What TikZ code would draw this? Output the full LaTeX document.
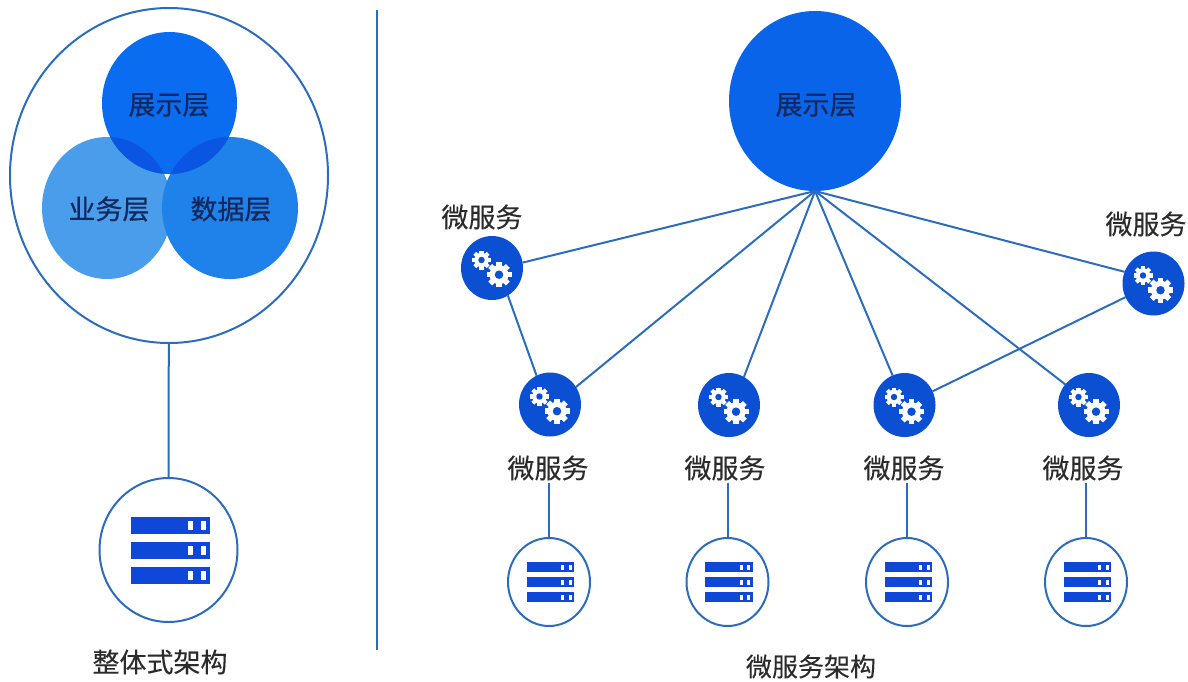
\documentclass[tikz,border=0pt]{standalone}
\usepackage{fontspec}
\setmainfont{Noto Sans CJK SC}
\newfontfamily\boldish[FakeBold=0.6]{Noto Sans CJK SC}
\newfontfamily\semibold[FakeBold=0.2]{Noto Sans CJK SC}
\usetikzlibrary{shapes.geometric}
\definecolor{linec}{HTML}{2C6CBE}
\definecolor{topc}{HTML}{0A6CF0}
\definecolor{overc}{HTML}{0A55E2}
\definecolor{leftc}{HTML}{4A9DEA}
\definecolor{rightc}{HTML}{1F82EA}
\definecolor{bigc}{HTML}{0A64EA}
\definecolor{gearc}{HTML}{0B4FD2}
\definecolor{srvc}{HTML}{0F48D8}
\definecolor{navy}{HTML}{12295E}
\definecolor{txt}{HTML}{2B2B2B}
\tikzset{
  x=1pt,y=-1pt,
  conn/.style={draw=linec,line width=2pt},
  blob/.style={ellipse,inner sep=0pt,outer sep=0pt,draw=none},
  ring/.style={ellipse,inner sep=0pt,outer sep=0pt,draw=linec,line width=2pt,fill=white},
  gearnode/.style={blob,fill=gearc,minimum width=62pt,minimum height=64pt},
  disk/.style={ring,minimum width=82pt,minimum height=88pt},
  inlabel/.style={text=navy,font=\boldish\fontsize{27}{27}\selectfont,inner sep=0pt},
  captxt/.style={text=txt,font=\semibold\fontsize{27}{27}\selectfont,inner sep=2pt},
  gearpic/.pic={
    \foreach \a in {0,45,...,315}{
      \fill[white,rotate=\a] (-.22,-1) rectangle (.22,-.6);
    }
    \fill[white] (0,0) circle[radius=.76];
    \fill[gearc] (0,0) circle[radius=.34];
  },
  gears/.pic={
    \pic[scale=9.5] at (-10.5,-8) {gearpic};
    \pic[scale=12.5] at (7,6.7) {gearpic};
  },
  rack/.pic={
    \foreach \y in {-33,-8,17}{
      \fill[srvc] (-37,\y) rectangle (42,\y+17);
      \fill[white] (20,\y+4) rectangle (25,\y+13);
      \fill[white] (33,\y+4) rectangle (38,\y+13);
    }
  }
}
\begin{document}
\begin{tikzpicture}
\useasboundingbox (0,0) rectangle (1188,681);
% monolith
\node[ring,minimum width=318pt,minimum height=335pt] (mono) at (169,175.5) {};
\node[blob,fill=leftc,minimum width=130pt,minimum height=142pt] (biz) at (107,208) {};
\node[blob,fill=rightc,minimum width=136pt,minimum height=142pt] (data) at (230,208) {};
\node[blob,fill=topc,minimum width=135pt,minimum height=142pt] (pres) at (169.5,103) {};
\begin{scope}
  \clip (169.5,103) ellipse[x radius=67.5,y radius=71];
  \fill[overc] (107,208) ellipse[x radius=65,y radius=71];
  \fill[overc] (230,208) ellipse[x radius=68,y radius=71];
\end{scope}
\node[inlabel] (t1) at (169,105) {展示层};
\node[inlabel] (t2) at (109,209) {业务层};
\node[inlabel] (t3) at (231,209) {数据层};
\node[ring,minimum width=138pt,minimum height=144pt] (monodisk) at (168.5,550) {};
\pic at (168,550) {rack};
\draw[conn] (mono) -- (monodisk);
\node[captxt] (monocap) at (160,662) {整体式架构};
% divider
\coordinate (divtop) at (377,10);
\coordinate (divbot) at (377,650);
\draw[conn] (divtop) -- (divbot);
% micro
\node[blob,fill=bigc,minimum width=172pt,minimum height=180pt] (big) at (815,101) {};
\node[inlabel] (bigt) at (816,105) {展示层};
\node[gearnode] (s1) at (492,268) {};
\node[gearnode] (s2) at (550,404.5) {};
\node[gearnode] (s3) at (729,405) {};
\node[gearnode] (s4) at (904.5,405) {};
\node[gearnode] (s5) at (1089,405) {};
\node[gearnode] (s6) at (1153.5,283.5) {};
\foreach \n in {s1,s2,s3,s4,s5,s6}{\pic at (\n) {gears};}
\draw[conn] (big.south) -- (s1.10);
\draw[conn] (big.south) -- (s2.34);
\draw[conn] (big.south) -- (s3.62);
\draw[conn] (big.south) -- (s4.112);
\draw[conn] (big.south) -- (s5.139);
\draw[conn] (big.south) -- (s6.158);
\draw[conn] (s1.300) -- (s2.115);
\draw[conn] (s6.206) -- (s4.26);
\node[captxt] (c1) at (482,217) {微服务};
\node[captxt,inner sep=0pt] (c6) at (1146,224) {微服务};
\node[captxt] (c2) at (548,468) {微服务};
\node[captxt] (c3) at (725,468) {微服务};
\node[captxt] (c4) at (904,468) {微服务};
\node[captxt] (c5) at (1083,468) {微服务};
\node[disk] (d2) at (549,582) {};
\node[disk] (d3) at (727.5,582) {};
\node[disk] (d4) at (907,582) {};
\node[disk] (d5) at (1086,582) {};
\foreach \n in {d2,d3,d4,d5}{\pic[scale=.6] at (\n) {rack};}
\draw[conn] (c2.south -| d2.north) -- (d2.north);
\draw[conn] (c3.south -| d3.north) -- (d3.north);
\draw[conn] (c4.south -| d4.north) -- (d4.north);
\draw[conn] (c5.south -| d5.north) -- (d5.north);
\node[captxt,font=\semibold\fontsize{26}{26}\selectfont] (microcap) at (811,666.5) {微服务架构};
\end{tikzpicture}
\end{document}
